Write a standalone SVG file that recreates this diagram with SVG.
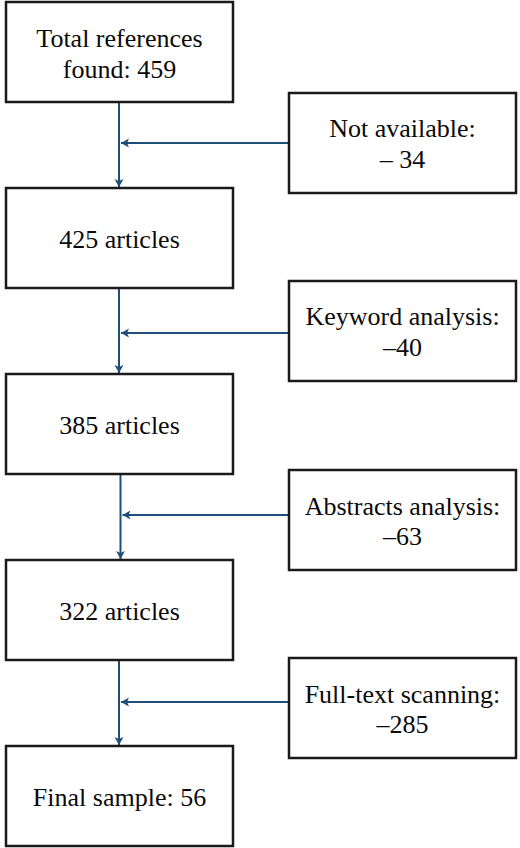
<svg xmlns="http://www.w3.org/2000/svg" width="520" height="848" viewBox="0 0 520 848">
<style>
.box{fill:#fff;stroke:#1a1a1a;stroke-width:2.5}
.t{font-size:26px;fill:#0a0a0a;text-anchor:middle}
.c{fill:none;stroke:#1f4e79;stroke-width:2}
</style>
<defs>
<marker id="ah" markerUnits="userSpaceOnUse" markerWidth="10" markerHeight="10" viewBox="0 0 10 10" refX="9" refY="5" orient="auto">
<path d="M1,0.5 L9,5 L1,9.5 L3,5 z" fill="#1f4e79"/>
</marker>
</defs>
<rect width="520" height="848" fill="#fff"/>
<g id="connectors">
<line class="c" x1="119" y1="102" x2="119" y2="187" marker-end="url(#ah)"/>
<line class="c" x1="289" y1="143" x2="121" y2="143" marker-end="url(#ah)"/>
<line class="c" x1="119" y1="288" x2="119" y2="373" marker-end="url(#ah)"/>
<line class="c" x1="289" y1="333" x2="121" y2="333" marker-end="url(#ah)"/>
<line class="c" x1="120.5" y1="474" x2="120.5" y2="559" marker-end="url(#ah)"/>
<line class="c" x1="289" y1="515" x2="122.5" y2="515" marker-end="url(#ah)"/>
<line class="c" x1="119" y1="660" x2="119" y2="745" marker-end="url(#ah)"/>
<line class="c" x1="289" y1="702" x2="121" y2="702" marker-end="url(#ah)"/>
</g>
<g font-family="Liberation Serif, Times New Roman, serif">
<g id="n1"><rect class="box" x="6" y="2" width="227" height="100"/><text class="t" x="119.5" y="47">Total references</text><text class="t" x="119.5" y="78">found: 459</text></g>
<g id="s1"><rect class="box" x="289" y="93" width="227" height="100"/><text class="t" x="402.5" y="137">Not available:</text><text class="t" x="402.5" y="168">– 34</text></g>
<g id="n2"><rect class="box" x="6" y="188" width="227" height="100"/><text class="t" x="119.5" y="248">425 articles</text></g>
<g id="s2"><rect class="box" x="289" y="281" width="227" height="100"/><text class="t" x="402.5" y="325">Keyword analysis:</text><text class="t" x="402.5" y="356">–40</text></g>
<g id="n3"><rect class="box" x="6" y="374" width="227" height="100"/><text class="t" x="119.5" y="434">385 articles</text></g>
<g id="s3"><rect class="box" x="289" y="470" width="227" height="100"/><text class="t" x="402.5" y="515">Abstracts analysis:</text><text class="t" x="402.5" y="545">–63</text></g>
<g id="n4"><rect class="box" x="6" y="560" width="227" height="100"/><text class="t" x="119.5" y="620">322 articles</text></g>
<g id="s4"><rect class="box" x="289" y="658" width="227" height="100"/><text class="t" x="402.5" y="703">Full-text scanning:</text><text class="t" x="402.5" y="733">–285</text></g>
<g id="n5"><rect class="box" x="6" y="746" width="227" height="100"/><text class="t" x="119.5" y="806">Final sample: 56</text></g>
</g>
</svg>
